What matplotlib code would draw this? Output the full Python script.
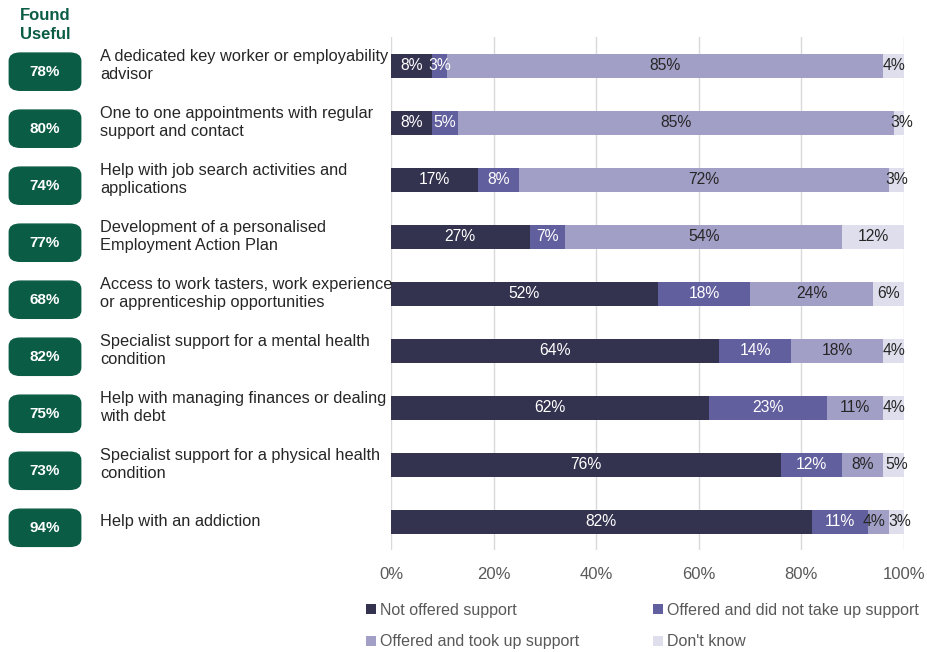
import matplotlib.pyplot as plt
from matplotlib.patches import FancyBboxPatch
from matplotlib.transforms import blended_transform_factory

plt.rcParams['font.family'] = ['Liberation Sans', 'DejaVu Sans']

# data
categories = [
    "A dedicated key worker or employability\nadvisor",
    "One to one appointments with regular\nsupport and contact",
    "Help with job search activities and\napplications",
    "Development of a personalised\nEmployment Action Plan",
    "Access to work tasters, work experience\nor apprenticeship opportunities",
    "Specialist support for a mental health\ncondition",
    "Help with managing finances or dealing\nwith debt",
    "Specialist support for a physical health\ncondition",
    "Help with an addiction",
]
found_useful = [78, 80, 74, 77, 68, 82, 75, 73, 94]
not_offered = [8, 8, 17, 27, 52, 64, 62, 76, 82]
offered_not_taken = [3, 5, 8, 7, 18, 14, 23, 12, 11]
offered_taken = [85, 85, 72, 54, 24, 18, 11, 8, 4]
dont_know = [4, 3, 3, 12, 6, 4, 4, 5, 3]

series_names = ["Not offered support", "Offered and did not take up support",
                "Offered and took up support", "Don't know"]
colors = ["#33324f", "#625f9e", "#a19fc6", "#dfdeec"]
text_colors = ["white", "white", "#262626", "#262626"]
green = "#0b5c45"

fig = plt.figure(figsize=(9.27, 6.52), dpi=100)
ax = fig.add_axes([0.4218, 0.156, 0.5534, 0.787])

series = [not_offered, offered_not_taken, offered_taken, dont_know]
y = list(range(len(categories)))
left = [0] * len(categories)
bars = []
for k, (vals, name, col, tcol) in enumerate(zip(series, series_names, colors, text_colors)):
    b = ax.barh(y, vals, left=left, height=0.42, color=col, label=name, zorder=3)
    bars.append(b)
    for i, v in enumerate(vals):
        x = left[i] + v / 2
        # push apart two tiny neighbouring labels at the end of a bar
        if k == 2 and v < 5 and dont_know[i] < 5:
            x -= 0.8
        if k == 3 and offered_taken[i] < 5:
            x += 0.7
        ax.text(x, i, f"{v}%", ha='center', va='center',
                color=tcol, fontsize=11.3, zorder=4)
    left = [l + v for l, v in zip(left, vals)]

ax.set_xlim(0, 100)
ax.set_ylim(len(categories) - 0.5, -0.5)
ax.set_xticks(range(0, 101, 20))
ax.set_xticklabels([f"{t}%" for t in range(0, 101, 20)])
ax.set_yticks([])
ax.tick_params(axis='x', length=0, labelsize=12, labelcolor="#595959", pad=12)
ax.grid(axis='x', color="#d9d9d9", linewidth=1, zorder=0)
for s in ax.spines.values():
    s.set_visible(False)

# category labels and found-useful badges
trans = blended_transform_factory(fig.transFigure, ax.transData)
for i, (cat, fu) in enumerate(zip(categories, found_useful)):
    ax.text(100 / 927, i, cat, transform=trans, ha='left', va='center',
            fontsize=11.8, color="#262626", linespacing=1.25, clip_on=False)
    yc = ax.transData.transform((0, i))[1] / fig.bbox.height - 6 / 652
    box = FancyBboxPatch((13 / 927, yc - 16 / 652), 64 / 927, 32 / 652,
                         boxstyle="round,pad=0.004,rounding_size=0.012",
                         transform=fig.transFigure, facecolor=green,
                         edgecolor=green, clip_on=False)
    fig.patches.append(box)
    fig.text(45 / 927, yc, f"{fu}%", ha='center', va='center', color='white',
             fontsize=11, fontweight='bold')

fig.text(45 / 927, 1 - 25 / 652, "Found\nUseful", ha='center', va='center',
         color=green, fontsize=12, fontweight='bold', linespacing=1.3)

handles = [bars[0], bars[2], bars[1], bars[3]]
labels = [series_names[0], series_names[2], series_names[1], series_names[3]]
fig.legend(handles, labels, ncol=2, loc='center left', bbox_to_anchor=(358 / 927, 0.04),
           frameon=False, fontsize=11.5, handlelength=0.6, handleheight=0.6,
           handletextpad=0.3, columnspacing=4.6, labelspacing=1.05,
           labelcolor="#595959", borderpad=0)

fig.savefig("out.png", dpi=100)
